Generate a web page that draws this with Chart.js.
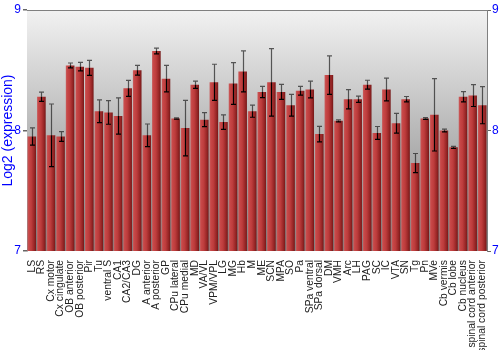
<!DOCTYPE html>
<html>
<head>
<meta charset="utf-8">
<script src="https://cdn.jsdelivr.net/npm/chart.js@4/dist/chart.umd.min.js"></script>
<style>
  html, body { margin: 0; padding: 0; background: #fff; }
  #wrap { width: 500px; height: 350px; }
</style>
</head>
<body>
<div id="wrap"><canvas id="c" width="500" height="350"></canvas></div>
<script>
// Regions
const regions = [
    "LS", "RS", "Cx motor", "Cx cingulate", "OB anterior", "OB posterior", "Pir", "Tu",
    "ventral S", "CA1", "CA2/CA3", "DG", "A anterior", "A posterior", "GP", "CPu lateral",
    "CPu medial", "MD", "VA/VL", "VPM/VPL", "LG", "MG", "Hb", "M",
    "ME", "SCN", "MPA", "SO", "Pa", "SPa ventral", "SPa dorsal", "DM",
    "VMH", "Arc", "LH", "PAG", "SC", "IC", "VTA", "SN",
    "Tg", "Pn", "MVe", "Cb vermis", "Cb lobe", "Cb nucleus", "spinal cord anterior", "spinal cord posterior"
];

// mean log2 expression
const expression = [
    7.95, 8.28, 7.96, 7.95, 8.54, 8.53, 8.52, 8.16,
    8.15, 8.12, 8.35, 8.50, 7.96, 8.66, 8.43, 8.10,
    8.02, 8.38, 8.09, 8.40, 8.07, 8.39, 8.49, 8.16,
    8.32, 8.40, 8.32, 8.21, 8.33, 8.34, 7.97, 8.46,
    8.08, 8.26, 8.26, 8.38, 7.98, 8.34, 8.06, 8.26,
    7.73, 8.10, 8.13, 8.00, 7.86, 8.28, 8.29, 8.21
];

// +/- error
const errors = [
    0.072, 0.039, 0.26, 0.04, 0.02, 0.035, 0.062, 0.094,
    0.098, 0.15, 0.066, 0.04, 0.094, 0.024, 0.11, 0.006,
    0.23, 0.03, 0.058, 0.15, 0.06, 0.174, 0.17, 0.05,
    0.047, 0.28, 0.062, 0.09, 0.037, 0.07, 0.065, 0.16,
    0.008, 0.08, 0.026, 0.037, 0.053, 0.094, 0.082, 0.022,
    0.079, 0.007, 0.30, 0.011, 0.008, 0.042, 0.091, 0.154
];

const yTicks = [7, 8, 9];
const blue = '#0000ff';
const font = 'Liberation Sans, Arial, sans-serif';

// gray gradient panel behind the bars + top frame line
const panelPlugin = {
    id: 'panel',
    beforeDatasetsDraw(chart) {
        const { ctx, chartArea: a } = chart;
        const g = ctx.createLinearGradient(0, a.top, 0, a.bottom);
        g.addColorStop(0, '#f2f2f2');
        g.addColorStop(0.5, '#b8b8b8');
        g.addColorStop(1, '#808080');
        ctx.save();
        ctx.fillStyle = g;
        ctx.fillRect(a.left, a.top, a.right - a.left, a.bottom - a.top);
        ctx.strokeStyle = '#808080';
        ctx.lineWidth = 1;
        ctx.beginPath();
        ctx.moveTo(a.left, a.top + 0.5);
        ctx.lineTo(a.right, a.top + 0.5);
        ctx.stroke();
        ctx.restore();
    }
};

// error bars
const errorPlugin = {
    id: 'errors',
    afterDatasetsDraw(chart) {
        const { ctx } = chart;
        const y = chart.scales.y;
        const meta = chart.getDatasetMeta(0);
        ctx.save();
        ctx.lineWidth = 1.2;
        meta.data.forEach((bar, i) => {
            const x = Math.round(bar.x) + 0.5;
            const yHi = y.getPixelForValue(expression[i] + errors[i]);
            const yMid = y.getPixelForValue(expression[i]);
            const yLo = y.getPixelForValue(expression[i] - errors[i]);
            // part above the bar top
            ctx.strokeStyle = 'rgba(40,40,40,0.75)';
            ctx.beginPath();
            ctx.moveTo(x, yHi);
            ctx.lineTo(x, yMid);
            ctx.moveTo(x - 2.5, yHi);
            ctx.lineTo(x + 2.5, yHi);
            ctx.stroke();
            // part inside the bar
            ctx.strokeStyle = '#000';
            ctx.beginPath();
            ctx.moveTo(x, yMid);
            ctx.lineTo(x, yLo);
            ctx.moveTo(x - 2.5, yLo);
            ctx.lineTo(x + 2.5, yLo);
            ctx.stroke();
        });
        ctx.restore();
    }
};

function barGradient(context) {
    const chart = context.chart;
    const xs = chart.scales.x;
    if (!xs || !chart.chartArea) return '#b53535';
    const w = (xs.width / regions.length) * 0.9;
    const cx = xs.getPixelForValue(context.dataIndex);
    const g = chart.ctx.createLinearGradient(cx - w / 2, 0, cx + w / 2, 0);
    g.addColorStop(0, '#c86060');
    g.addColorStop(0.15, '#c84848');
    g.addColorStop(0.45, '#bd3c3c');
    g.addColorStop(0.8, '#962525');
    g.addColorStop(1, '#741818');
    return g;
}

new Chart(document.getElementById('c'), {
    type: 'bar',
    data: {
        labels: regions,
        datasets: [{
            label: 'Log2 (expression)',
            data: expression,
            backgroundColor: barGradient,
            borderWidth: 0,
            barPercentage: 0.9,
            categoryPercentage: 1.0,
        }]
    },
    options: {
        responsive: false,
        animation: false,
        devicePixelRatio: 1,
        layout: { padding: { top: 10, left: 0, right: 0, bottom: 0 } },
        plugins: {
            legend: { display: false },
            tooltip: { enabled: false },
        },
        scales: {
            x: {
                grid: { display: false },
                border: { display: false },
                ticks: {
                    autoSkip: false,
                    minRotation: 90,
                    maxRotation: 90,
                    padding: 1,
                    color: '#222',
                    font: { family: font, size: 10.3 },
                },
                afterFit(scale) { scale.height = 99; },
            },
            y: {
                position: 'left',
                min: 7,
                max: 9,
                z: 1,
                afterBuildTicks(scale) { scale.ticks = yTicks.map(v => ({ value: v })); },
                ticks: {
                    color: blue,
                    padding: 2,
                    font: { family: font, size: 12 },
                },
                grid: {
                    color: (c) => c.tick && c.tick.value === 8 ? 'rgba(255,255,255,0.7)' : 'rgba(0,0,0,0)',
                    tickColor: '#666',
                    tickLength: 4,
                    lineWidth: 1.5,
                },
                border: { display: true, color: '#808080', width: 1 },
                title: {
                    display: true,
                    text: 'Log2 (expression)',
                    color: blue,
                    padding: 0,
                    font: { family: font, size: 14 },
                },
                afterFit(scale) { scale.width = 27; },
            },
            y2: {
                position: 'right',
                min: 7,
                max: 9,
                afterBuildTicks(scale) { scale.ticks = yTicks.map(v => ({ value: v })); },
                ticks: {
                    color: blue,
                    padding: 1,
                    font: { family: font, size: 12 },
                },
                grid: {
                    drawOnChartArea: false,
                    tickColor: '#666',
                    tickLength: 4,
                },
                border: { display: true, color: '#808080', width: 1 },
                afterFit(scale) { scale.width = 13; },
            }
        }
    },
    plugins: [panelPlugin, errorPlugin]
});
</script>
</body>
</html>
